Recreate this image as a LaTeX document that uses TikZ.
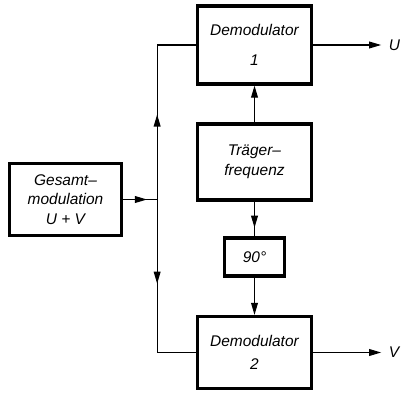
\documentclass[tikz,border=0pt]{standalone}
\usepackage{fontspec}
\newfontfamily\blockfont{Liberation Sans}
\usepackage{tikz}
\usetikzlibrary{positioning, arrows.meta, decorations.markings}

\tikzset{
  block/.style={rectangle, draw, line width=2.3pt, minimum width=2.85cm, align=center,
    font=\blockfont\itshape\fontsize{11}{14}\selectfont, inner sep=2pt},
  wire/.style={line width=0.8pt},
  tip/.style={-{Triangle[length=3mm, width=1.7mm]}},
  midarrow/.style={postaction={decorate}, decoration={markings,
    mark=at position #1 with {\arrow{Triangle[length=3mm, width=1.7mm]}}}}
}

\begin{document}
\begin{tikzpicture}[x=0.025cm, y=-0.025cm]
\useasboundingbox (0,0) rectangle (405,394);

\node [block, minimum height=1.95cm] (dem1) at (254.5,45) {Demodulator\\[7pt]1};
\node [block, minimum height=1.9cm] (traeger) at (254.5,162) {Träger\textendash\\frequenz};
\node [block, minimum width=1.5cm, minimum height=0.95cm] (phase) at (254.5,257) {90°};
\node [block, minimum height=1.8cm] (dem2) at (254.5,352.5) {Demodulator\\[2pt]2};
\node [block, minimum width=2.8cm, minimum height=1.8cm] (gesamt) at (65.5,199.5) {Gesamt\textendash\\modulation\\U + V};

\coordinate [right = 0.85cm of gesamt.east] (junc);
\coordinate (corner1) at (junc |- dem1.west);
\coordinate (corner2) at (junc |- dem2.west);
\coordinate [right = 1.7cm of dem1.east] (outU);
\coordinate [right = 1.7cm of dem2.east] (outV);
\node [right = 2pt of outU, font=\blockfont\itshape\fontsize{11}{14}\selectfont] (labU) {U};
\node [right = 2pt of outV, font=\blockfont\itshape\fontsize{11}{14}\selectfont] (labV) {V};

\draw [wire, midarrow=0.7] (gesamt.east) -- (junc);
\draw [wire, midarrow=0.55] (junc) -- (corner1);
\draw [wire] (corner1) -- (dem1.west);
\draw [wire, midarrow=0.55] (junc) -- (corner2);
\draw [wire] (corner2) -- (dem2.west);

\draw [wire, tip] (traeger) -- (dem1);
\draw [wire, midarrow=0.75] (traeger) -- (phase);
\draw [wire, tip] (phase) -- (dem2);

\draw [wire, tip] (dem1.east) -- (outU);
\draw [wire, tip] (dem2.east) -- (outV);

\end{tikzpicture}
\end{document}
